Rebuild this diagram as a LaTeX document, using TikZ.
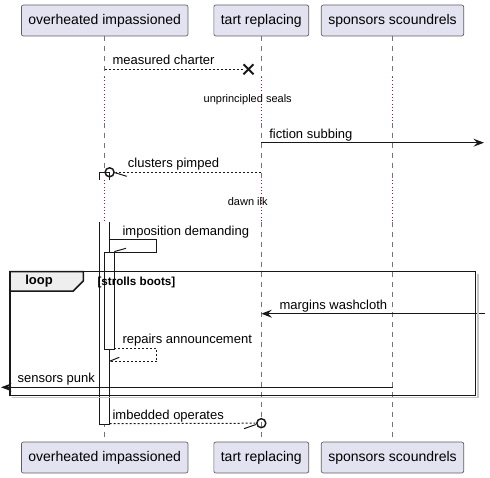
\documentclass[tikz,border=0pt]{standalone}
\usepackage{fontspec}
\setmainfont{Liberation Sans}
\usetikzlibrary{arrows.meta}
\definecolor{partfill}{HTML}{E2E2F0}
\definecolor{partline}{HTML}{181818}
\definecolor{delayred}{HTML}{B0104A}
\definecolor{tabfill}{HTML}{EEEEEE}
\tikzset{
  party/.style={draw=partline!70, line width=0.5pt, fill=partfill, rounded corners=1.5pt,
    minimum height=23.25pt, inner xsep=5.25pt, font=\fontsize{10.5}{12}\selectfont},
  lifeline/.style={draw=partline!60, line width=0.5pt, dash pattern=on 3.75pt off 3.75pt},
  delayline/.style={draw=delayred, line width=1pt, dash pattern=on 0.8pt off 1.7pt},
  msg/.style={draw=partline, line width=0.75pt},
  reply/.style={msg, dash pattern=on 1.5pt off 1.5pt},
  msgtext/.style={anchor=base west, inner sep=0pt, font=\fontsize{9.75}{11}\selectfont},
  delaytext/.style={inner sep=0pt, font=\fontsize{8.25}{10}\selectfont},
  actbox/.style={draw=partline, line width=0.75pt, fill=white},
  frame/.style={draw=partline, line width=1.125pt}
}

\begin{document}
\begin{tikzpicture}[x=0.75pt,y=-0.75pt,>={Stealth[length=8pt,width=6pt,inset=3pt]}]
\useasboundingbox (0,0) rectangle (490,478);
% participants, top and bottom
\node[party] (oiTop) at (104.7,20.5) {overheated impassioned};
\node[party] (trTop) at (261.3,20.5) {tart replacing};
\node[party] (ssTop) at (392.5,20.5) {sponsors scoundrels};
\node[party] (oiBot) at (104.7,457.5) {overheated impassioned};
\node[party] (trBot) at (261.3,457.5) {tart replacing};
\node[party] (ssBot) at (392.5,457.5) {sponsors scoundrels};
% where the delays start and stop
\coordinate (d1a) at (0,77);
\coordinate (d1b) at (0,122.7);
\coordinate (d2a) at (0,180);
\coordinate (d2b) at (0,221.7);
% lifelines
\draw[lifeline] (oiTop.south) -- (oiTop.south |- d1a) (oiTop.south |- d1b) -- (oiTop.south |- d2a) (oiTop.south |- d2b) -- (oiBot.north);
\draw[lifeline] (trTop.south) -- (trTop.south |- d1a) (trTop.south |- d1b) -- (trTop.south |- d2a) (trTop.south |- d2b) -- (trBot.north);
\draw[lifeline] (ssTop.south) -- (ssTop.south |- d1a) (ssTop.south |- d1b) -- (ssTop.south |- d2a) (ssTop.south |- d2b) -- (ssBot.north);
\draw[delayline] (oiTop.south |- d1a) -- (oiTop.south |- d1b);
\draw[delayline] (oiTop.south |- d2a) -- (oiTop.south |- d2b);
\draw[delayline] (trTop.south |- d1a) -- (trTop.south |- d1b);
\draw[delayline] (trTop.south |- d2a) -- (trTop.south |- d2b);
\draw[delayline] (ssTop.south |- d1a) -- (ssTop.south |- d1b);
\draw[delayline] (ssTop.south |- d2a) -- (ssTop.south |- d2b);
% activations
\draw[actbox] (99.3,180) -- (99.3,172.3) -- (109.7,172.3) -- (109.7,180);
\fill[white] (99.3,222.3) rectangle (109.7,424);
\draw[actbox] (99.3,222.3) -- (99.3,424) -- (109.7,424) -- (109.7,222.3);
\draw[actbox] (104.7,252.3) rectangle (114.3,349.3);
% message end points
\coordinate (m1a) at (oiTop.south |- 0,69.3);
\coordinate (m1b) at (248.5,69.3);
\coordinate (m2a) at (trTop.south |- 0,142.7);
\coordinate (m2b) at (484,142.7);
\coordinate (m3a) at (trTop.south |- 0,172.3);
\coordinate (m3b) at (109.6,172.3);
\coordinate (m5a) at (ssTop.south |- 0,313.7);
\coordinate (m5b) at (485,313.7);
\coordinate (m7a) at (ssTop.south |- 0,387.3);
\coordinate (m7b) at (1,387.3);
\coordinate (m8a) at (109.7,423.7);
\coordinate (m8b) at (trTop.south |- 0,423.2);
% measured charter
\draw[reply] (m1a) -- (243.5,69.3);
\draw[line width=1.5pt, draw=partline] ([shift={(-5,-5)}]m1b) -- ([shift={(5,5)}]m1b) ([shift={(-5,5)}]m1b) -- ([shift={(5,-5)}]m1b);
% fiction subbing
\draw[msg,->] (m2a) -- (m2b);
% clusters pimped
\draw[reply] (m3a) -- ([xshift=4.5]m3b);
\draw[msg, line width=1.1pt] (m3b) circle [radius=4.5];
\draw[msg] (115,172.7) -- (126.7,176.3);
% imposition demanding
\draw[msg] (109.7,239.3) -- (156.7,239.3) -- (156.7,252.3) -- (114.3,252.3);
\draw[msg] (114.3,251.6) -- (126,248.3);
% margins washcloth
\draw[msg,->] (m5b) -- (trTop.south |- m5b);
% repairs announcement
\draw[reply] (114.3,348.3) -- (156.7,348.3) -- (156.7,361.7) -- (109.7,361.7);
\draw[msg] (109.7,361.2) -- (119.3,357.3);
% sensors punk
\draw[msg,->] (m7a) -- (m7b);
% imbedded operates
\draw[reply] (m8a) -- ([xshift=-4.5]m8b);
\draw[msg, line width=1.1pt] (m8b) circle [radius=4.5];
\draw[msg] (244,428.7) -- (255.7,424.6);
% loop frame
\draw[draw=gray!45, line width=1.125pt] (12.2,397.5) -- (477.9,397.5) -- (477.9,273.9);
\filldraw[frame, fill=tabfill] (10,271.7) -- (83.3,271.7) -- (83.3,281) -- (73.3,291) -- (10,291) -- cycle;
\draw[frame] (10,271.7) rectangle (475.7,395.3);
\node[inner sep=0pt, font=\fontsize{9.75}{11}\selectfont\bfseries] (loopTag) at (39,281.5) {loop};
\node[anchor=west, inner sep=0pt, font=\fontsize{8.75}{10}\selectfont\bfseries] (loopCond) at (97.3,282.3) {[strolls boots]};
% labels
\node[msgtext] (t1) at (112.3,65) {measured charter};
\node[delaytext] (t2) at (247.7,99.3) {unprincipled seals};
\node[msgtext] (t3) at (269,138.2) {fiction subbing};
\node[msgtext] (t4) at (127.7,168) {clusters pimped};
\node[delaytext] (t5) at (247.7,202) {dawn ilk};
\node[msgtext] (t6) at (122.3,235) {imposition demanding};
\node[msgtext] (t7) at (279.3,309.2) {margins washcloth};
\node[msgtext] (t8) at (122.3,344) {repairs announcement};
\node[msgtext] (t9) at (17.3,382.8) {sensors punk};
\node[msgtext] (t10) at (112.3,419.2) {imbedded operates};
\end{tikzpicture}
\end{document}
